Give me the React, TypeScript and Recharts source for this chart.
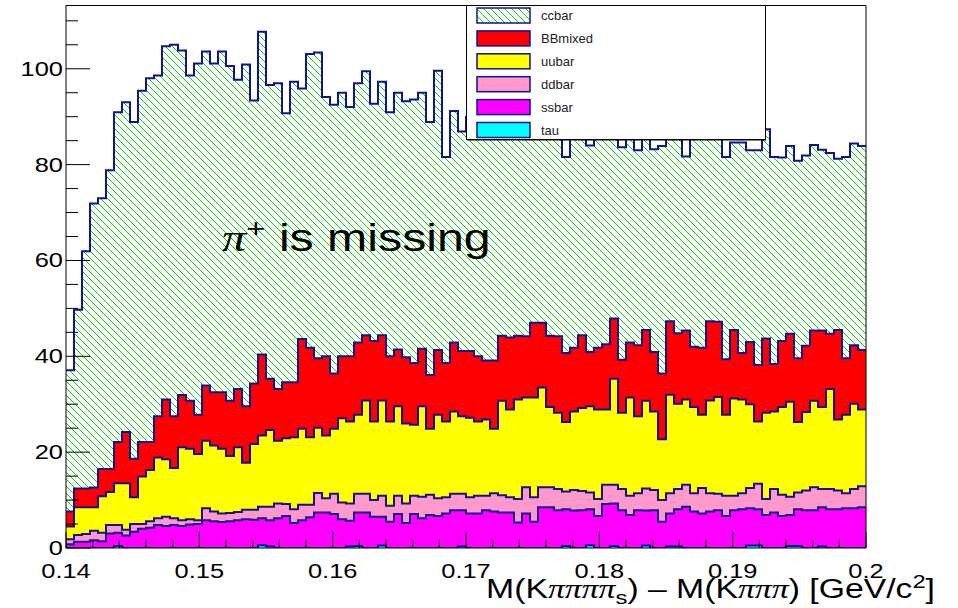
import {
  ComposedChart,
  Area,
  Line,
  XAxis,
  YAxis,
  Legend,
  ReferenceLine,
} from 'recharts';

// M(K3pi pi_s) - M(K3pi), 100 bins between 0.14 and 0.2 GeV/c^2
const X_MIN = 0.14;
const X_MAX = 0.2;
const N_BINS = 100;
const BIN_W = (X_MAX - X_MIN) / N_BINS;
const Y_MAX = 113.2;

// entries per bin, one array per MC sample (stacked bottom -> top)
const tau = [
  0, 0, 0, 0, 0, 0, 0.4, 0, 0, 0,
  0, 0, 0, 0, 0, 0, 0, 0, 0, 0,
  0, 0, 0, 0, 0.6, 0.3, 0, 0, 0, 0,
  0, 0, 0, 0, 0, 0.3, 0.4, 0, 0, 0.5,
  0, 0, 0, 0, 0, 0, 0, 0, 0, 0.3,
  0, 0, 0, 0, 0, 0, 0, 0, 0, 0,
  0, 0, 0.4, 0, 0, 0.6, 0, 0, 0.4, 0,
  0, 0, 0.5, 0, 0, 0.3, 0.3, 0, 0, 0,
  0, 0, 0, 0, 0, 0.5, 0.5, 0, 0, 0,
  0.4, 0.4, 0, 0, 0.3, 0, 0, 0, 0, 0,
];
const ssbar = [
  0.8, 1.3, 1.3, 1.6, 1.4, 3.0, 2.8, 2.6, 3.4, 4.0,
  4.2, 4.8, 4.6, 4.8, 4.6, 4.9, 5.0, 5.8, 5.6, 5.4,
  5.6, 5.8, 6.0, 5.9, 5.6, 5.5, 6.2, 6.7, 5.2, 5.8,
  6.4, 7.4, 7.4, 7.1, 6.0, 5.4, 7.0, 7.4, 6.5, 6.0,
  5.5, 7.1, 5.2, 7.1, 6.2, 6.9, 6.7, 7.2, 7.9, 7.6,
  7.2, 7.2, 7.9, 7.6, 7.4, 7.4, 5.3, 7.2, 5.5, 8.5,
  8.5, 7.9, 7.7, 7.8, 7.9, 7.5, 6.7, 9.2, 8.9, 7.9,
  6.9, 7.9, 7.3, 7.9, 5.5, 6.9, 7.8, 8.6, 7.6, 7.2,
  7.6, 7.9, 6.7, 7.9, 8.1, 7.8, 7.6, 6.9, 7.4, 6.7,
  6.5, 7.7, 7.9, 7.9, 8.2, 8.1, 8.1, 8.3, 8.3, 8.5,
];
const ddbar = [
  1.0, 1.4, 1.6, 2.0, 1.8, 1.8, 1.6, 1.2, 1.6, 1.0,
  1.4, 1.4, 1.9, 1.4, 1.2, 1.1, 0.8, 2.5, 2.0, 1.8,
  1.7, 1.7, 2.0, 2.1, 2.4, 2.8, 3.1, 2.5, 2.9, 3.2,
  2.6, 4.1, 3.0, 4.2, 3.5, 3.6, 3.9, 3.9, 3.5, 4.4,
  3.3, 3.8, 4.1, 3.8, 4.5, 4.2, 3.7, 3.4, 3.4, 3.4,
  3.4, 3.7, 3.0, 3.8, 3.6, 3.2, 4.9, 5.5, 5.1, 4.2,
  4.2, 4.4, 3.7, 4.3, 4.0, 3.5, 3.5, 4.0, 3.9, 4.4,
  4.0, 3.5, 4.6, 4.2, 4.5, 4.2, 4.2, 4.6, 3.8, 5.3,
  3.8, 3.4, 4.2, 3.0, 3.3, 4.2, 5.3, 3.3, 4.9, 4.4,
  3.8, 3.5, 4.1, 4.8, 3.8, 4.2, 3.9, 3.1, 4.0, 4.4,
];
const uubar = [
  2.7, 5.8, 5.6, 4.9, 7.6, 6.9, 8.7, 9.7, 5.6, 9.9,
  10.7, 12.7, 12.0, 10.5, 15.2, 14.7, 13.8, 14.1, 13.8, 13.5,
  11.9, 13.5, 9.8, 13.7, 14.9, 16.0, 13.1, 13.7, 15.0, 15.9,
  14.1, 13.6, 13.1, 13.6, 17.6, 17.1, 16.5, 19.5, 16.4, 19.9,
  17.6, 18.7, 16.7, 14.8, 18.9, 13.8, 17.4, 15.8, 17.2, 16.2,
  16.6, 15.5, 15.9, 13.5, 19.7, 18.3, 20.8, 18.7, 20.8, 20.8,
  16.7, 15.9, 14.5, 16.4, 17.3, 18.0, 18.7, 15.7, 22.1, 15.9,
  20.5, 16.1, 18.3, 16.4, 12.7, 20.6, 17.8, 17.8, 18.0, 15.3,
  19.4, 20.2, 16.9, 20.3, 19.6, 17.5, 13.0, 18.0, 16.2, 18.3,
  19.8, 14.7, 16.4, 18.0, 17.1, 20.9, 14.8, 16.4, 17.8, 16.0,
];
const bbmixed = [
  3.1, 3.9, 3.9, 4.1, 5.7, 4.8, 8.6, 10.7, 8.0, 7.2,
  5.8, 8.6, 12.5, 10.8, 10.9, 10.0, 8.2, 11.5, 11.1, 11.8,
  11.5, 12.2, 11.8, 12.6, 16.9, 10.7, 10.8, 11.7, 11.5, 18.7,
  18.7, 14.5, 16.5, 11.5, 12.9, 13.6, 15.1, 13.6, 16.8, 13.6,
  13.6, 11.8, 13.8, 12.9, 12.0, 11.2, 13.5, 12.2, 14.4, 13.6,
  13.9, 13.6, 12.3, 14.2, 13.6, 15.0, 13.3, 12.8, 15.6, 13.5,
  14.9, 16.0, 14.4, 13.3, 15.2, 11.3, 12.9, 13.6, 12.6, 11.1,
  11.5, 14.8, 14.8, 12.4, 13.7, 15.3, 14.7, 14.4, 12.6, 14.0,
  16.5, 15.7, 11.6, 14.3, 9.7, 13.0, 11.8, 15.5, 9.9, 13.8,
  14.2, 13.3, 13.8, 14.7, 16.0, 11.5, 18.7, 11.8, 12.2, 12.4,
];
const ccbar = [
  29.5, 37.3, 49.5, 59.3, 56.5, 62.3, 68.8, 68.8, 70.3, 73.3,
  75.9, 71.1, 73.7, 77.5, 71.9, 67.9, 73.3, 69.7, 68.6, 71.1,
  69.9, 64.5, 71.3, 59.1, 67.3, 61.3, 63.8, 56.1, 62.7, 52.3,
  61.3, 63.8, 54.1, 56.1, 55.0, 52.0, 54.1, 55.1, 49.5, 52.9,
  50.9, 53.6, 53.4, 55.0, 53.4, 52.8, 58.3, 43.0, 48.3, 45.8,
  48.9, 48.0, 52.9, 49.9, 46.7, 43.1, 45.7, 48.8, 41.0, 43.0,
  41.7, 44.8, 40.9, 48.2, 42.6, 43.1, 46.2, 48.5, 38.1, 44.3,
  46.1, 40.7, 40.5, 42.3, 47.5, 40.7, 45.2, 36.3, 43.5, 46.2,
  39.7, 41.8, 42.2, 39.1, 43.9, 40.0, 44.8, 43.7, 43.2, 38.3,
  39.2, 41.2, 39.7, 38.7, 37.7, 37.7, 35.7, 42.0, 42.1, 42.6,
];

const X_LABELS = ['0.14', '0.15', '0.16', '0.17', '0.18', '0.19', '0.2'];
const Y_LABELS = ['0', '20', '40', '60', '80', '100'];
const SAMPLES = ['ccbar', 'BBmixed', 'uubar', 'ddbar', 'ssbar', 'tau'];

const FONT = "'Liberation Sans', Arial, Helvetica, sans-serif";
const SERIF = "'Liberation Serif', 'DejaVu Serif', serif";
const OUTLINE = '#12128f';
const HATCH = '#00d400';
const FILLS: Record<string, string> = {
  ccbar: 'url(#ccHatch)',
  BBmixed: '#ff0000',
  uubar: '#ffff00',
  ddbar: '#ff99cc',
  ssbar: '#ff00ff',
  tau: '#00ffff',
};
// ROOT canvas text comes out wider than the font's own metrics
const SX = 1.27;

// minor ticks every 0.002 on x, every 5 entries on y
const xTicks = Array.from({ length: 31 }, (_, k) => X_MIN + k * 0.002);
const yTicks = Array.from({ length: 23 }, (_, k) => k * 5);

// one row per bin low edge, plus a closing row at 0.2 so the last step is drawn
const rows = Array.from({ length: N_BINS + 1 }, (_, i) => {
  const b = Math.min(i, N_BINS - 1);
  const lTau = tau[b];
  const lSs = lTau + ssbar[b];
  const lDd = lSs + ddbar[b];
  const lUu = lDd + uubar[b];
  const lBb = lUu + bbmixed[b];
  const lCc = lBb + ccbar[b];
  return {
    x: X_MIN + i * BIN_W,
    tau: tau[b],
    ssbar: ssbar[b],
    ddbar: ddbar[b],
    uubar: uubar[b],
    bbmixed: bbmixed[b],
    ccbar: ccbar[b],
    lTau,
    lSs,
    lDd,
    lUu,
    lBb,
    lCc,
  };
});

function XTick({ x, y, payload }: any) {
  const k = Math.round((payload.value - X_MIN) / 0.002);
  const major = k % 5 === 0;
  return (
    <g>
      <line x1={x} x2={x} y1={y} y2={y - (major ? 16 : 8)} stroke="#000" />
      {major && (
        <text
          transform={`translate(${x},${y + 30}) scale(${SX},1)`}
          textAnchor="middle"
          fontSize={20}
          fontFamily={FONT}
          fill="#000"
        >
          {X_LABELS[k / 5]}
        </text>
      )}
    </g>
  );
}

function YTick({ x, y, payload }: any) {
  const v = payload.value;
  const major = v % 20 === 0;
  return (
    <g>
      <line x1={x} x2={x + (major ? 24 : 12)} y1={y} y2={y} stroke="#000" />
      {major && (
        <text
          transform={`translate(${x - 3},${y + 7}) scale(${SX},1)`}
          textAnchor="end"
          fontSize={20}
          fontFamily={FONT}
          fill="#000"
        >
          {Y_LABELS[v / 20]}
        </text>
      )}
    </g>
  );
}

function HatchPattern({ id }: { id: string }) {
  return (
    <pattern id={id} patternUnits="userSpaceOnUse" width={7} height={7}>
      <rect width={7} height={7} fill="#fff" />
      <path
        d="M-1,-1 L8,8 M-1,6 L1,8 M6,-1 L8,1"
        stroke={HATCH}
        strokeWidth={1}
      />
    </pattern>
  );
}

function StackLegend() {
  return (
    <svg width={301} height={136} style={{ display: 'block' }}>
      <defs>
        <HatchPattern id="ccHatchKey" />
      </defs>
      <rect x={0.5} y={0.5} width={299} height={134} fill="#fff" stroke="#000" />
      <line x1={1} x2={300} y1={135} y2={135} stroke="#000" />
      {SAMPLES.map((name, i) => {
        const cy = 10.5 + i * 22.9;
        return (
          <g key={name}>
            <rect
              x={11}
              y={cy - 7.5}
              width={53}
              height={15}
              fill={name === 'ccbar' ? 'url(#ccHatchKey)' : FILLS[name]}
              stroke={OUTLINE}
              strokeWidth={1.5}
            />
            <text x={75} y={cy + 4.5} fontSize={13} fontFamily={FONT} fill="#222">
              {name}
            </text>
          </g>
        );
      })}
    </svg>
  );
}

// free text drawn over the plot: the annotation and the x-axis title
function Annotations() {
  return (
    <svg
      width={958}
      height={608}
      style={{ position: 'absolute', left: 0, top: 0, pointerEvents: 'none' }}
    >
      <g fontFamily={FONT} fill="#000">
        <text transform={`translate(222,251) scale(${SX},1)`} fontSize={38}>
          <tspan fontFamily={SERIF} fontStyle="italic">π</tspan>
          <tspan dy={-14} fontSize={26}>+</tspan>
          <tspan dy={14}> is missing</tspan>
        </text>
        <text transform={`translate(935,598) scale(1.25,1)`} fontSize={27} textAnchor="end">
          <tspan>M(K</tspan>
          <tspan fontFamily={SERIF} fontStyle="italic">ππππ</tspan>
          <tspan dy={6} fontSize={19}>s</tspan>
          <tspan dy={-6}>) – M(K</tspan>
          <tspan fontFamily={SERIF} fontStyle="italic">πππ</tspan>
          <tspan>) [GeV/c</tspan>
          <tspan dy={-10} fontSize={19}>2</tspan>
          <tspan dy={10}>]</tspan>
        </text>
      </g>
    </svg>
  );
}

const layers = [
  { key: 'tau', name: 'tau', level: 'lTau' },
  { key: 'ssbar', name: 'ssbar', level: 'lSs' },
  { key: 'ddbar', name: 'ddbar', level: 'lDd' },
  { key: 'uubar', name: 'uubar', level: 'lUu' },
  { key: 'bbmixed', name: 'BBmixed', level: 'lBb' },
  { key: 'ccbar', name: 'ccbar', level: 'lCc' },
];

export default function App() {
  return (
    <div style={{ position: 'absolute', left: 0, top: 0, width: 958, height: 608, background: '#fff' }}>
      <ComposedChart
        width={958}
        height={608}
        data={rows}
        margin={{ top: 5.5, right: 92, bottom: 0, left: 0 }}
      >
        <defs>
          <HatchPattern id="ccHatch" />
        </defs>
        {layers.map((l) => (
          <Area
            key={l.key}
            dataKey={l.key}
            name={l.name}
            stackId="mc"
            type="stepAfter"
            fill={FILLS[l.name]}
            fillOpacity={1}
            stroke="none"
            isAnimationActive={false}
          />
        ))}
        {layers.map((l) => (
          <Line
            key={l.level}
            dataKey={l.level}
            type="stepAfter"
            stroke={OUTLINE}
            strokeWidth={2}
            dot={false}
            activeDot={false}
            legendType="none"
            isAnimationActive={false}
          />
        ))}
        <ReferenceLine y={Y_MAX} stroke="#000" strokeWidth={1} />
        <ReferenceLine x={X_MAX} stroke="#000" strokeWidth={1} />
        <XAxis
          dataKey="x"
          type="number"
          domain={[X_MIN, X_MAX]}
          ticks={xTicks}
          interval={0}
          height={60}
          tickSize={0}
          tickMargin={0}
          tickLine={false}
          axisLine={{ stroke: '#000' }}
          tick={(p: any) => <XTick {...p} />}
        />
        <YAxis
          type="number"
          domain={[0, Y_MAX]}
          ticks={yTicks}
          interval={0}
          width={66}
          tickSize={0}
          tickMargin={0}
          tickLine={false}
          axisLine={{ stroke: '#000' }}
          allowDataOverflow
          tick={(p: any) => <YTick {...p} />}
        />
        <Legend
          layout="vertical"
          align="center"
          verticalAlign="middle"
          content={() => <StackLegend />}
          wrapperStyle={{ left: 466, top: 5, width: 301, height: 136 }}
        />
      </ComposedChart>
      <Annotations />
    </div>
  );
}
